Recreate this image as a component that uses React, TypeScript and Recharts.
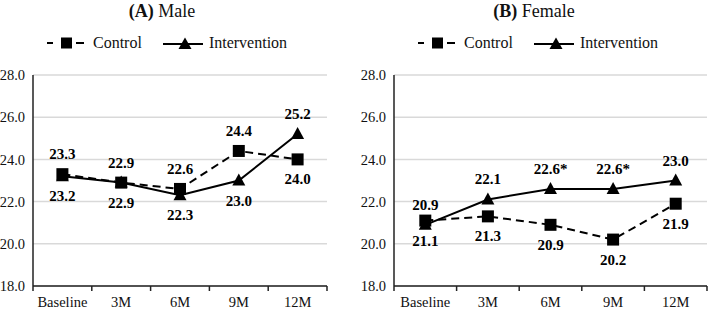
import { LineChart, Line, XAxis, YAxis, CartesianGrid, LabelList } from "recharts";

const CATEGORIES = ["Baseline", "3M", "6M", "9M", "12M"];
const Y_TICKS = [18, 20, 22, 24, 26, 28];

const MALE_CONTROL = [23.3, 22.9, 22.6, 24.4, 24.0];
const MALE_INTERVENTION = [23.2, 22.9, 22.3, 23.0, 25.2];
const MALE_CONTROL_LABELS = ["23.3", "22.9", "22.6", "24.4", "24.0"];
const MALE_INTERVENTION_LABELS = ["23.2", "22.9", "22.3", "23.0", "25.2"];

const FEMALE_CONTROL = [21.1, 21.3, 20.9, 20.2, 21.9];
const FEMALE_INTERVENTION = [20.9, 22.1, 22.6, 22.6, 23.0];
const FEMALE_CONTROL_LABELS = ["21.1", "21.3", "20.9", "20.2", "21.9"];
const FEMALE_INTERVENTION_LABELS = ["20.9", "22.1", "22.6*", "22.6*", "23.0"];

const FONT = '"Liberation Serif", "Times New Roman", serif';
const INK = "#000";

// label above (-1) or below (+1) the marker
const MALE_CONTROL_SIDE = [-1, -1, -1, -1, 1];
const MALE_INTERVENTION_SIDE = [1, 1, 1, 1, -1];
const FEMALE_CONTROL_SIDE = [1, 1, 1, 1, 1];
const FEMALE_INTERVENTION_SIDE = [-1, -1, -1, -1, -1];

const Square = (p: any) => {
  if (p.cx == null || p.cy == null) return null;
  return <rect x={p.cx - 6} y={p.cy - 6} width={12} height={12} fill={INK} />;
};

const Triangle = (p: any) => {
  if (p.cx == null || p.cy == null) return null;
  const { cx, cy } = p;
  return <polygon points={`${cx},${cy - 7} ${cx - 6.5},${cy + 5} ${cx + 6.5},${cy + 5}`} fill={INK} />;
};

const XTick = (props: any) => {
  const { x, y, payload, index, width, visibleTicksCount } = props;
  const band = width / visibleTicksCount;
  return (
    <g>
      <line x1={x + band / 2} x2={x + band / 2} y1={y} y2={y + 5} stroke="#222" strokeWidth={1.5} />
      {index === 0 && <line x1={x - band / 2} x2={x - band / 2} y1={y} y2={y + 5} stroke="#222" strokeWidth={1.5} />}
      <text x={x} y={y + 16} textAnchor="middle" dominantBaseline="central" fontFamily={FONT} fontSize={14.5} fill="#111">
        {payload.value}
      </text>
    </g>
  );
};

const makeLabel = (labels: string[], sides: number[]) => (p: any) => {
  const { x, y, index } = p;
  if (x == null || y == null) return null;
  return (
    <text x={x} y={y + sides[index] * 20} textAnchor="middle" dominantBaseline="central" fontFamily={FONT} fontSize={15} fontWeight="bold" fill={INK}>
      {labels[index]}
    </text>
  );
};

function LegendRow({ left }: { left: number }) {
  return (
    <div style={{ position: "absolute", left, top: 33, height: 20, display: "flex", alignItems: "center", fontFamily: FONT, fontSize: 16, color: "#111", whiteSpace: "nowrap" }}>
      <svg width={37} height={14} style={{ display: "block" }}>
        <line x1={0} x2={6} y1={7} y2={7} stroke={INK} strokeWidth={2} />
        <rect x={14} y={1.5} width={11} height={11} fill={INK} />
        <line x1={29} x2={37} y1={7} y2={7} stroke={INK} strokeWidth={2} />
      </svg>
      <span style={{ marginLeft: 9 }}>Control</span>
      <svg width={40} height={14} style={{ display: "block", marginLeft: 21 }}>
        <line x1={0} x2={40} y1={8} y2={8} stroke={INK} strokeWidth={2} />
        <polygon points="22,1.5 15.5,13 28.5,13" fill={INK} />
      </svg>
      <span style={{ marginLeft: 6 }}>Intervention</span>
    </div>
  );
}

type PanelProps = {
  letter: string;
  name: string;
  control: number[];
  intervention: number[];
  controlLabels: string[];
  interventionLabels: string[];
  controlSide: number[];
  interventionSide: number[];
  left: number;
  width: number;
  axisWidth: number;
  rightMargin: number;
  titleShift: number;
  legendLeft: number;
};

function Panel(p: PanelProps) {
  const data = CATEGORIES.map((cat, i) => ({ cat, control: p.control[i], intervention: p.intervention[i] }));
  return (
    <div style={{ position: "absolute", left: p.left, top: 0, width: p.width, height: 310 }}>
      <div style={{ position: "absolute", left: 0, top: 1, width: p.width, textAlign: "center", transform: `translateX(${p.titleShift}px)`, fontFamily: FONT, fontSize: 18, color: "#111" }}>
        <b>({p.letter})</b> {p.name}
      </div>
      <LegendRow left={p.legendLeft} />
      <div style={{ position: "absolute", left: 0, top: 0 }}>
        <LineChart width={p.width} height={310} data={data} margin={{ top: 75, right: p.rightMargin, bottom: 0, left: 0 }}>
          <CartesianGrid vertical={false} stroke="#d9d9d9" strokeWidth={1.5} />
          <XAxis dataKey="cat" scale="band" height={24} tickLine={false} tickSize={0} tickMargin={0} axisLine={{ stroke: "#222", strokeWidth: 1.5 }} tick={<XTick />} interval={0} />
          <XAxis xAxisId="top" dataKey="cat" scale="band" orientation="top" height={0} tick={false} tickLine={false} axisLine={{ stroke: "#222", strokeWidth: 1.5 }} />
          <YAxis
            domain={[18, 28]}
            ticks={Y_TICKS}
            width={p.axisWidth}
            tickLine={false}
            tickSize={0}
            tickMargin={8}
            tickFormatter={(v: number) => v.toFixed(1)}
            axisLine={{ stroke: "#222", strokeWidth: 1.5 }}
            tick={{ fontFamily: FONT, fontSize: 14.5, fill: "#111" }}
          />
          <YAxis yAxisId="right" orientation="right" domain={[18, 28]} width={0} tick={false} tickLine={false} axisLine={{ stroke: "#222", strokeWidth: 1.5 }} />
          <Line dataKey="control" stroke={INK} strokeWidth={2} strokeDasharray="8 5" dot={<Square />} activeDot={false} isAnimationActive={false}>
            <LabelList dataKey="control" content={makeLabel(p.controlLabels, p.controlSide)} />
          </Line>
          <Line dataKey="intervention" stroke={INK} strokeWidth={2} dot={<Triangle />} activeDot={false} isAnimationActive={false}>
            <LabelList dataKey="intervention" content={makeLabel(p.interventionLabels, p.interventionSide)} />
          </Line>
        </LineChart>
      </div>
    </div>
  );
}

export default function App() {
  return (
    <div style={{ position: "absolute", left: 0, top: 0, width: 709, height: 310, background: "#fff" }}>
      <Panel
        letter="A"
        name="Male"
        control={MALE_CONTROL}
        intervention={MALE_INTERVENTION}
        controlLabels={MALE_CONTROL_LABELS}
        interventionLabels={MALE_INTERVENTION_LABELS}
        controlSide={MALE_CONTROL_SIDE}
        interventionSide={MALE_INTERVENTION_SIDE}
        left={0}
        width={354}
        axisWidth={33}
        rightMargin={27}
        titleShift={-15}
        legendLeft={47}
      />
      <Panel
        letter="B"
        name="Female"
        control={FEMALE_CONTROL}
        intervention={FEMALE_INTERVENTION}
        controlLabels={FEMALE_CONTROL_LABELS}
        interventionLabels={FEMALE_INTERVENTION_LABELS}
        controlSide={FEMALE_CONTROL_SIDE}
        interventionSide={FEMALE_INTERVENTION_SIDE}
        left={354}
        width={355}
        axisWidth={40}
        rightMargin={2}
        titleShift={2.5}
        legendLeft={64}
      />
    </div>
  );
}
